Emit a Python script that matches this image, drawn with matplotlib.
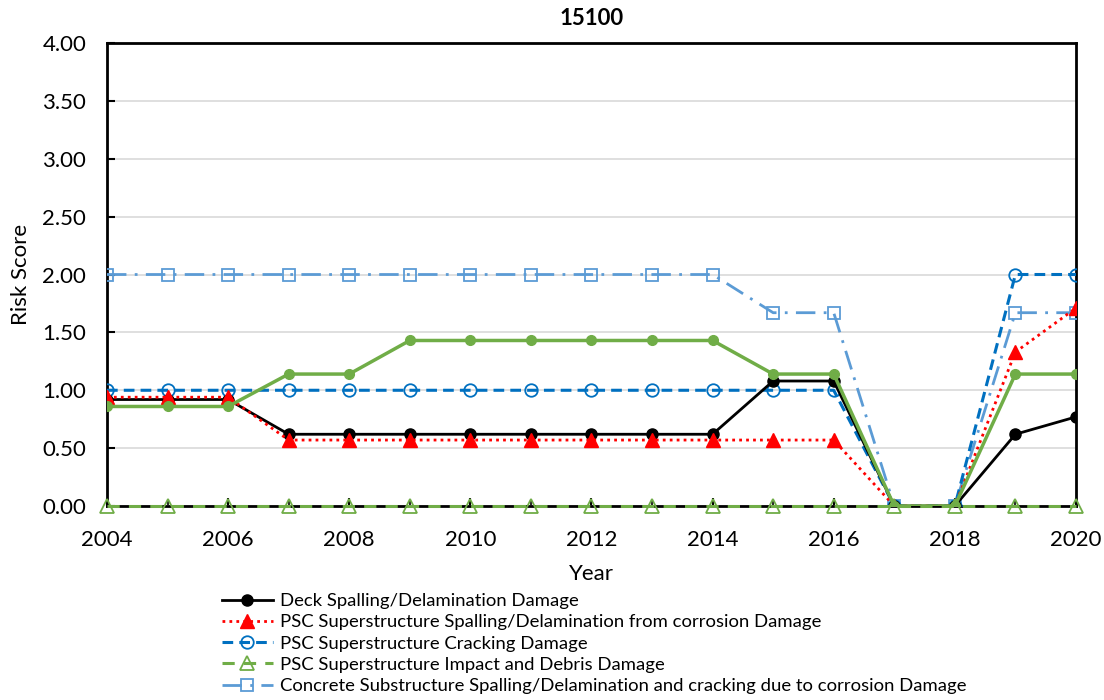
import matplotlib
matplotlib.use("Agg")
import matplotlib.pyplot as plt
import numpy as np

plt.rcParams['font.family'] = ['Lato', 'DejaVu Sans']

years = list(range(2004, 2021))
deck = [0.92, 0.92, 0.92, 0.62, 0.62, 0.62, 0.62, 0.62, 0.62, 0.62, 0.62, 1.08, 1.08, 0.0, 0.0, 0.62, 0.77]
psc_spall = [0.94, 0.94, 0.94, 0.57, 0.57, 0.57, 0.57, 0.57, 0.57, 0.57, 0.57, 0.57, 0.57, 0.0, 0.0, 1.33, 1.71]
psc_crack = [1.0, 1.0, 1.0, 1.0, 1.0, 1.0, 1.0, 1.0, 1.0, 1.0, 1.0, 1.0, 1.0, 0.0, 0.0, 2.0, 2.0]
psc_impact = [0.0] * 17
substructure = [2.0, 2.0, 2.0, 2.0, 2.0, 2.0, 2.0, 2.0, 2.0, 2.0, 2.0, 1.67, 1.67, 0.0, 0.0, 1.67, 1.67]
other = [0.86, 0.86, 0.86, 1.14, 1.14, 1.43, 1.43, 1.43, 1.43, 1.43, 1.43, 1.14, 1.14, 0.0, 0.0, 1.14, 1.14]

labels = ["Deck Spalling/Delamination Damage",
          "PSC Superstructure Spalling/Delamination from corrosion Damage",
          "PSC Superstructure Cracking Damage",
          "PSC Superstructure Impact and Debris Damage",
          "Concrete Substructure Spalling/Delamination and cracking due to corrosion Damage"]

fig = plt.figure(figsize=(11.04, 7.0), dpi=100)
ax = fig.add_axes([0.0969, 0.2771, 0.8777, 0.6615])

green = '#70AD47'
blue = '#0070C0'
lblue = '#5B9BD5'

ax.plot(years, substructure, color=lblue, lw=2, linestyle=(0, (7, 3, 1, 3)), marker='s',
        markersize=9, markerfacecolor='none', markeredgecolor=lblue, markeredgewidth=1.3,
        label=labels[4], zorder=3)
ax.plot(years, psc_crack, color=blue, lw=2.2, linestyle=(0, (3.5, 2)), marker='o',
        markersize=9, markerfacecolor='none', markeredgecolor=blue, markeredgewidth=1.3,
        label=labels[2], zorder=4)
ax.plot(years, deck, color='black', lw=2, marker='o', markersize=8, label=labels[0], zorder=5)
ax.plot(years, psc_spall, color='#FF0000', lw=2, linestyle=(0, (1, 1.5)), marker='^',
        markersize=10, markeredgecolor='#FF0000', label=labels[1], zorder=6)
ax.plot(years, other, color=green, lw=2.5, marker='o', markersize=7, label='_nolegend_', zorder=7)
ax.plot(years, psc_impact, color=green, lw=2.2, linestyle=(0, (4, 3)), marker='^',
        markersize=10, markerfacecolor='none', markeredgecolor=green, markeredgewidth=1.3,
        label=labels[3], zorder=8, clip_on=False)

ax.set_xlim(2004, 2020)
ax.set_ylim(0, 4)
ax.set_xticks(range(2004, 2021, 2))
ax.set_xticks(range(2004, 2021), minor=True)
ax.set_yticks(np.arange(0, 4.01, 0.5))
ax.set_yticklabels([f"{v:.2f}" for v in np.arange(0, 4.01, 0.5)])
ax.grid(axis='y', color='#D9D9D9', lw=1.2)
ax.set_axisbelow(True)
for s in ax.spines.values():
    s.set_linewidth(2)
    s.set_color('black')
ax.tick_params(axis='both', labelsize=16, direction='in', length=6, width=1.5)
ax.tick_params(axis='x', which='minor', direction='in', length=4, width=1.2)
ax.tick_params(axis='x', pad=17)
ax.tick_params(axis='y', pad=15)
ax.set_xlabel('Year', fontsize=16, labelpad=10)
ax.set_ylabel('Risk Score', fontsize=16, labelpad=8)
ax.set_title('15100', fontsize=16, fontweight='bold', pad=13)

h, l = ax.get_legend_handles_labels()
order = [labels.index(x) for x in l]
pairs = sorted(zip(order, h, l))
leg = fig.legend([p[1] for p in pairs], [p[2] for p in pairs], loc='upper left',
                 bbox_to_anchor=(0.194, 0.163), frameon=False, fontsize=13.3,
                 handlelength=2.8, labelspacing=0.28, handletextpad=0.35, borderaxespad=0)

fig.savefig('out.png', dpi=100)
